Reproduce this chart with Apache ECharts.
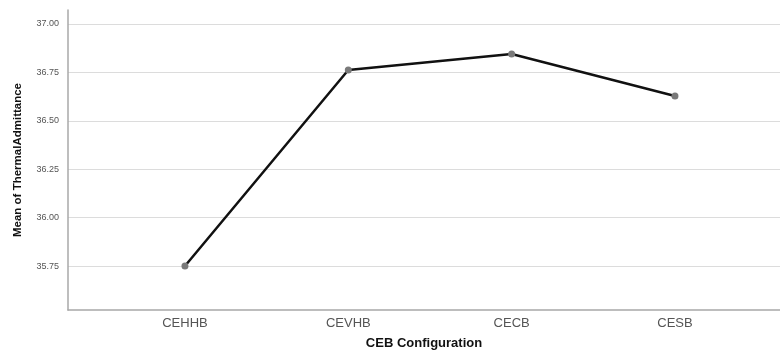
<!DOCTYPE html>
<html>
<head>
<meta charset="utf-8">
<script src="https://cdn.jsdelivr.net/npm/echarts@6/dist/echarts.min.js"></script>
<style>
  html, body { margin: 0; padding: 0; background: #fff; }
  #main { width: 780px; height: 350px; }
</style>
</head>
<body>
<div id="main"></div>
<script>
// CEB configurations and mean thermal admittance
var categories = ['CEHHB', 'CEVHB', 'CECB', 'CESB'];
var means = [35.75, 36.762, 36.845, 36.628];
var yTicks = [35.75, 36.00, 36.25, 36.50, 36.75, 37.00];

var points = [];
for (var i = 0; i < means.length; i++) {
  points.push([i, means[i]]);
}
var xIdx = categories.map(function (c, i) { return i; });

var myChart = echarts.init(document.getElementById('main'));
var option = {
  animation: false,
  grid: { left: 68, right: 0, top: 10, bottom: 40, outerBoundsMode: 'none', containLabel: false },
  xAxis: {
    type: 'value',
    min: -0.716,
    max: 3.643,
    name: 'CEB Configuration',
    nameLocation: 'middle',
    nameGap: 27,
    nameTextStyle: { fontFamily: 'Liberation Sans', fontSize: 13, fontWeight: 'bold', color: '#111' },
    axisLine: { show: true, onZero: false, lineStyle: { color: '#a8a8a8', width: 1.5 } },
    axisTick: { show: false, customValues: xIdx },
    splitLine: { show: false },
    axisLabel: {
      customValues: xIdx,
      margin: 7,
      fontFamily: 'Liberation Sans',
      fontSize: 13,
      color: '#555',
      formatter: function (v) { return categories[Math.round(v)]; }
    }
  },
  yAxis: {
    type: 'value',
    min: 35.523,
    max: 37.072,
    name: 'Mean of ThermalAdmittance',
    nameLocation: 'middle',
    nameGap: 44,
    nameTextStyle: { fontFamily: 'Liberation Sans', fontSize: 11.5, fontWeight: 'bold', color: '#111' },
    axisLine: { show: true, onZero: false, lineStyle: { color: '#a8a8a8', width: 1.5 } },
    axisTick: { show: false, customValues: yTicks },
    splitLine: { show: true, lineStyle: { color: '#dcdcdc', width: 1 } },
    axisLabel: {
      customValues: yTicks,
      margin: 9,
      fontFamily: 'Liberation Sans',
      fontSize: 9,
      color: '#555',
      formatter: function (v) { return v.toFixed(2); }
    }
  },
  series: [
    {
      type: 'line',
      data: points,
      symbol: 'circle',
      symbolSize: 7,
      lineStyle: { color: '#111', width: 2.5 },
      itemStyle: { color: '#7a7a7a' },
      z: 3
    }
  ]
};
myChart.setOption(option);
window.onresize = myChart.resize;
</script>
</body>
</html>
